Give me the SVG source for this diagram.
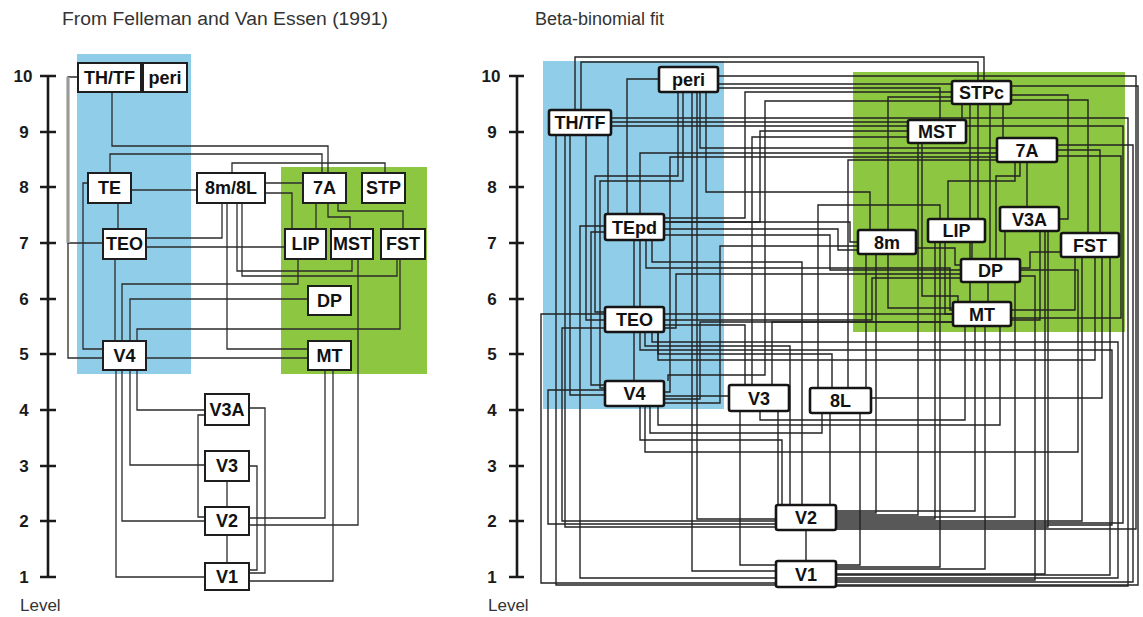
<svg xmlns="http://www.w3.org/2000/svg" width="1143" height="617" viewBox="0 0 1143 617">
<style>
.bg{fill:#ffffff}
.blue{fill:#90cde9}
.green{fill:#8dc641}
.ax{stroke:#1a1a1a;stroke-width:2.6;fill:none}
.axl{font-family:"Liberation Sans",Arial,sans-serif;font-weight:bold;font-size:17px;fill:#1a1a1a;text-anchor:middle}
.ttl{font-family:"Liberation Sans",Arial,sans-serif;font-size:18px;fill:#333}
.lvl{font-family:"Liberation Sans",Arial,sans-serif;font-size:17px;fill:#333}
.cl path{fill:none;stroke:#2b2b2b;stroke-width:1.3}
.cr path{fill:none;stroke:#222;stroke-width:1.4}
.nl rect{fill:#fff;stroke:#1e1e1e;stroke-width:2}
.nr rect{fill:#fff;stroke:#151515;stroke-width:2.6}
.nl text,.nr text{font-family:"Liberation Sans",Arial,sans-serif;font-weight:bold;font-size:18px;fill:#111;text-anchor:middle}
</style>
<rect class="bg" x="0" y="0" width="1143" height="617"/>

<!-- titles -->
<text class="ttl" x="62" y="25" textLength="326" lengthAdjust="spacingAndGlyphs">From Felleman and Van Essen (1991)</text>
<text class="ttl" x="535" y="25">Beta-binomial fit</text>

<!-- shaded regions -->
<rect class="blue" x="77" y="54" width="114" height="320"/>
<rect class="green" x="281" y="167" width="146" height="207"/>
<rect class="blue" x="543" y="61" width="181" height="348"/>
<rect class="green" x="853" y="72" width="272" height="260"/>

<!-- axes -->
<g id="axis-left">
<path class="ax" d="M48 76 V577 M40 76 H56 M40 132 H56 M40 187 H56 M40 243 H56 M40 299 H56 M40 354 H56 M40 410 H56 M40 466 H56 M40 521 H56 M40 577 H56"/>
<text class="axl" x="23" y="82">10</text>
<text class="axl" x="24" y="138">9</text>
<text class="axl" x="24" y="193">8</text>
<text class="axl" x="24" y="249">7</text>
<text class="axl" x="24" y="305">6</text>
<text class="axl" x="24" y="360">5</text>
<text class="axl" x="24" y="416">4</text>
<text class="axl" x="24" y="472">3</text>
<text class="axl" x="24" y="527">2</text>
<text class="axl" x="24" y="583">1</text>
<text class="lvl" x="20" y="611">Level</text>
</g>
<g id="axis-right">
<path class="ax" d="M517 76 V577 M509 76 H524 M509 132 H524 M509 187 H524 M509 243 H524 M509 299 H524 M509 354 H524 M509 410 H524 M509 466 H524 M509 521 H524 M509 577 H524"/>
<text class="axl" x="491" y="82">10</text>
<text class="axl" x="492" y="138">9</text>
<text class="axl" x="492" y="193">8</text>
<text class="axl" x="492" y="249">7</text>
<text class="axl" x="492" y="305">6</text>
<text class="axl" x="492" y="360">5</text>
<text class="axl" x="492" y="416">4</text>
<text class="axl" x="492" y="472">3</text>
<text class="axl" x="492" y="527">2</text>
<text class="axl" x="492" y="583">1</text>
<text class="lvl" x="488" y="611">Level</text>
</g>

<g id="connectors">
<g id="connectors-left" class="cl">
<path d="M78 77 H68 V243 H103"/>
<path d="M68 243 V358 H103"/>
<path d="M68 77 V243" style="stroke:#9a9a9a;stroke-width:3.2"/>
<path d="M112 92 V146 H328 V173"/>
<path d="M110 173 V154 H322 V173"/>
<path d="M232 173 V163 H385 V173"/>
<path d="M131 190 H197"/>
<path d="M265 183 H303"/>
<path d="M265 193 H292 V229"/>
<path d="M316 204 V229"/>
<path d="M328 204 V217 H350 V229"/>
<path d="M338 204 V211 H403 V229"/>
<path d="M118 204 V229"/>
<path d="M146 238 H222 V204"/>
<path d="M146 247 H285"/>
<path d="M115 259 V341"/>
<path d="M237 204 V271 H352 V259"/>
<path d="M242 204 V276 H397 V259"/>
<path d="M227 204 V349 H308"/>
<path d="M298 259 V284 H122 V341"/>
<path d="M308 299 H130 V341"/>
<path d="M400 259 V329 H137 V341"/>
<path d="M146 358 H308"/>
<path d="M88 183 H83 V349 H103"/>
<path d="M358 259 V525 H249"/>
<path d="M325 370 V518 H249"/>
<path d="M333 370 V581 H249"/>
<path d="M116 370 V577 H205"/>
<path d="M122 370 V521 H205"/>
<path d="M130 370 V465 H205"/>
<path d="M137 370 V410 H205"/>
<path d="M205 415 H198 V517 H205"/>
<path d="M249 408 H265 V573 H249"/>
<path d="M227 481 V507"/>
<path d="M227 534 V563"/>
<path d="M249 466 H257 V570 H249"/>
</g>
<g id="connectors-right" class="cr">
<path d="M575 110 V57 H984 V81"/>
<path d="M581 110 V62 H978 V81"/>
<path d="M611 118 H1128 V586 H836"/>
<path d="M611 122 H908"/>
<path d="M611 126 H1123 V523 H836"/>
<path d="M556 135 V585 H776"/>
<path d="M565 135 V527 H776"/>
<path d="M586 135 V320 H605"/>
<path d="M608 135 V214"/>
<path d="M570 135 V395 H605"/>
<path d="M659 79 H627 V214"/>
<path d="M718 84 H952"/>
<path d="M718 88 H940 V120"/>
<path d="M718 76 H1136 V529 H836"/>
<path d="M678 91 V176 H595 V312 H605"/>
<path d="M683 91 V181 H600 V388 H605"/>
<path d="M700 91 V148 H997"/>
<path d="M692 91 V571 H776"/>
<path d="M697 91 V519 H776"/>
<path d="M706 91 V192 H870 V230"/>
<path d="M962 104 V120"/>
<path d="M1003 104 V138"/>
<path d="M978 104 V219"/>
<path d="M990 104 V259"/>
<path d="M1011 100 H1088 V233"/>
<path d="M1011 95 H1068 V219 H1059"/>
<path d="M1011 86 H1138 V585 H836"/>
<path d="M952 97 H888 V230"/>
<path d="M952 101 H765 V375 H668 V381"/>
<path d="M970 104 V302"/>
<path d="M952 92 H745 V218 H664"/>
<path d="M922 143 V296 H958 V302"/>
<path d="M908 131 H760 V222 H664"/>
<path d="M908 137 H752 V385"/>
<path d="M918 143 V515 H836"/>
<path d="M1027 162 V207"/>
<path d="M997 153 H640 V307"/>
<path d="M997 157 H670 V392 H664"/>
<path d="M997 160 H848 V388"/>
<path d="M1015 162 V181 H948 V219"/>
<path d="M1020 162 V176 H996 V259"/>
<path d="M1057 150 H1100 V233"/>
<path d="M1057 156 H1121 V318 H1011"/>
<path d="M1057 145 H1133 V582 H836"/>
<path d="M634 240 V307"/>
<path d="M605 226 H580 V578 H776"/>
<path d="M605 232 H591 V385 H605"/>
<path d="M664 222 H850 V242 H858"/>
<path d="M664 229 H838 V250 H858"/>
<path d="M664 235 H830 V270 H961"/>
<path d="M652 240 V262 H802 V505"/>
<path d="M646 240 V268 H950 V310 H953"/>
<path d="M634 332 V381"/>
<path d="M664 314 H953"/>
<path d="M664 320 H872 V278 H961"/>
<path d="M664 325 H745 V385"/>
<path d="M645 332 V346 H790 V505"/>
<path d="M640 332 V350 H1112 V525 H836"/>
<path d="M652 332 V342 H1118 V578 H836"/>
<path d="M658 332 V354 H832 V388"/>
<path d="M658 332 V360 H1095 V257"/>
<path d="M605 328 H562 V521 H776"/>
<path d="M664 396 H729"/>
<path d="M650 406 V433 H822 V413"/>
<path d="M640 406 V440 H782 V505"/>
<path d="M658 406 V425 H1000 V326"/>
<path d="M645 406 V452 H1078 V270 H1020"/>
<path d="M778 411 V505"/>
<path d="M740 411 V565 H776"/>
<path d="M772 385 V322 H953"/>
<path d="M830 413 V505"/>
<path d="M860 413 V565 H836"/>
<path d="M866 388 V254"/>
<path d="M871 398 H1102 V257"/>
<path d="M818 388 V205 H940 V219"/>
<path d="M858 246 H720 V403 H664"/>
<path d="M961 274 H676 V328 H664"/>
<path d="M972 242 V259"/>
<path d="M945 242 V314 H953"/>
<path d="M935 242 V519 H836"/>
<path d="M940 242 V567 H836"/>
<path d="M916 248 H955 V265 H961"/>
<path d="M888 254 V308 H953"/>
<path d="M876 254 V513 H836"/>
<path d="M1005 231 V259"/>
<path d="M1040 231 V320 H1011"/>
<path d="M1048 231 V527 H836"/>
<path d="M1045 231 V574 H836"/>
<path d="M1075 257 V310 H1011"/>
<path d="M1082 257 V521 H836"/>
<path d="M1110 257 V575 H836"/>
<path d="M1061 252 H1030 V268 H1020"/>
<path d="M988 282 V302"/>
<path d="M1015 282 V517 H836"/>
<path d="M1020 276 H1035 V580 H836"/>
<path d="M975 326 V511 H836"/>
<path d="M985 326 V569 H836"/>
<path d="M965 326 V420 H760 V411"/>
<path d="M953 322 H700 V399 H664"/>
<path d="M806 530 V561"/>
<path d="M605 314 H541 V583 H776"/>
<path d="M605 390 H548 V524 H776"/>
</g>
</g>

<!-- left nodes -->
<g class="nl">
<g id="L-THTF"><rect x="78" y="63" width="63" height="29"/><text x="109.5" y="84">TH/TF</text></g>
<g id="L-peri"><rect x="143" y="63" width="44" height="29"/><text x="165" y="84">peri</text></g>
<g id="L-TE"><rect x="88" y="173" width="43" height="30"/><text x="109.5" y="194">TE</text></g>
<g id="L-8m8L"><rect x="197" y="173" width="68" height="30"/><text x="231" y="194">8m/8L</text></g>
<g id="L-7A"><rect x="303" y="173" width="43" height="30"/><text x="324.5" y="194">7A</text></g>
<g id="L-STP"><rect x="362" y="173" width="43" height="30"/><text x="383.5" y="194">STP</text></g>
<g id="L-TEO"><rect x="103" y="229" width="43" height="30"/><text x="124.5" y="250">TEO</text></g>
<g id="L-LIP"><rect x="285" y="229" width="41" height="30"/><text x="305.5" y="250">LIP</text></g>
<g id="L-MST"><rect x="331" y="229" width="42" height="30"/><text x="352" y="250">MST</text></g>
<g id="L-FST"><rect x="381" y="229" width="44" height="30"/><text x="403" y="250">FST</text></g>
<g id="L-DP"><rect x="308" y="286" width="43" height="29"/><text x="329.5" y="307">DP</text></g>
<g id="L-V4"><rect x="103" y="341" width="43" height="29"/><text x="124.5" y="362">V4</text></g>
<g id="L-MT"><rect x="308" y="341" width="43" height="29"/><text x="329.5" y="362">MT</text></g>
<g id="L-V3A"><rect x="205" y="394" width="44" height="31"/><text x="227" y="416">V3A</text></g>
<g id="L-V3"><rect x="205" y="451" width="44" height="30"/><text x="227" y="472">V3</text></g>
<g id="L-V2"><rect x="205" y="507" width="44" height="28"/><text x="227" y="527">V2</text></g>
<g id="L-V1"><rect x="205" y="563" width="44" height="27"/><text x="227" y="583">V1</text></g>
</g>

<!-- right nodes -->
<g class="nr">
<g id="R-peri"><rect x="659" y="67" width="59" height="25" rx="2"/><text x="688.5" y="86">peri</text></g>
<g id="R-THTF"><rect x="549" y="110" width="62" height="25" rx="2"/><text x="580" y="129">TH/TF</text></g>
<g id="R-STPc"><rect x="952" y="81" width="59" height="23" rx="2"/><text x="981.5" y="99">STPc</text></g>
<g id="R-MST"><rect x="908" y="120" width="58" height="23" rx="2"/><text x="937" y="138">MST</text></g>
<g id="R-7A"><rect x="997" y="138" width="60" height="24" rx="2"/><text x="1027" y="156.5">7A</text></g>
<g id="R-TEpd"><rect x="605" y="214" width="59" height="26" rx="2"/><text x="634.5" y="233.5">TEpd</text></g>
<g id="R-V3A"><rect x="1000" y="207" width="59" height="24" rx="2"/><text x="1029.5" y="225.5">V3A</text></g>
<g id="R-LIP"><rect x="928" y="219" width="57" height="23" rx="2"/><text x="956.5" y="237">LIP</text></g>
<g id="R-8m"><rect x="858" y="230" width="58" height="24" rx="2"/><text x="887" y="248.5">8m</text></g>
<g id="R-FST"><rect x="1061" y="233" width="58" height="24" rx="2"/><text x="1090" y="251.5">FST</text></g>
<g id="R-DP"><rect x="961" y="259" width="59" height="23" rx="2"/><text x="990.5" y="277">DP</text></g>
<g id="R-MT"><rect x="953" y="302" width="58" height="24" rx="2"/><text x="982" y="320.5">MT</text></g>
<g id="R-TEO"><rect x="605" y="307" width="59" height="25" rx="2"/><text x="634.5" y="326">TEO</text></g>
<g id="R-V4"><rect x="605" y="381" width="59" height="25" rx="2"/><text x="634.5" y="400">V4</text></g>
<g id="R-V3"><rect x="729" y="385" width="60" height="26" rx="2"/><text x="759" y="404.5">V3</text></g>
<g id="R-8L"><rect x="810" y="388" width="61" height="25" rx="2"/><text x="840.5" y="407">8L</text></g>
<g id="R-V2"><rect x="776" y="505" width="60" height="25" rx="2"/><text x="806" y="524">V2</text></g>
<g id="R-V1"><rect x="776" y="561" width="60" height="26" rx="2"/><text x="806" y="580.5">V1</text></g>
</g>
</svg>
